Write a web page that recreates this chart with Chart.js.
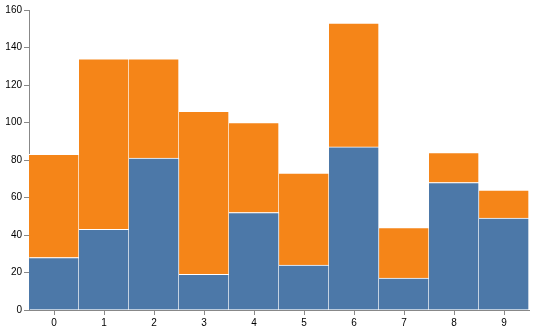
<!DOCTYPE html>
<html>
<head>
<meta charset="utf-8">
<script src="https://cdn.jsdelivr.net/npm/chart.js@4/dist/chart.umd.min.js"></script>
<style>
  html, body { margin: 0; padding: 0; background: #fff; }
  #wrap { width: 534px; height: 332px; position: relative; }
</style>
</head>
<body>
<div id="wrap"><canvas id="c"></canvas></div>
<script>
var categories = ['0', '1', '2', '3', '4', '5', '6', '7', '8', '9'];
var blueValues = [28, 43, 81, 19, 52, 24, 87, 17, 68, 49];
var orangeValues = [55, 91, 53, 87, 48, 49, 66, 27, 16, 15];

var axisColor = '#888';
var font = { family: 'Liberation Sans, Arial, sans-serif', size: 10 };

new Chart(document.getElementById('c'), {
  type: 'bar',
  data: {
    labels: categories,
    datasets: [{
      data: blueValues,
      backgroundColor: '#4c78a8',
      borderColor: '#fff',
      borderWidth: { top: 1, right: 1, left: 0, bottom: 0 },
      borderSkipped: false,
      categoryPercentage: 1,
      barPercentage: 1
    }, {
      data: orangeValues,
      backgroundColor: '#f58518',
      borderColor: '#fff',
      borderWidth: { top: 1, right: 1, left: 0, bottom: 0 },
      borderSkipped: false,
      categoryPercentage: 1,
      barPercentage: 1
    }]
  },
  options: {
    responsive: true,
    maintainAspectRatio: false,
    animation: false,
    layout: { padding: { top: 10, right: 5, left: 0, bottom: 0 } },
    plugins: { legend: { display: false }, tooltip: { enabled: false } },
    scales: {
      x: {
        stacked: true,
        afterFit: function(s) { s.height = 22; },
        grid: { display: true, drawOnChartArea: false, drawTicks: true, tickLength: 5, color: axisColor, offset: false },
        border: { display: true, color: axisColor },
        ticks: { color: '#000', font: font, padding: 2, maxRotation: 0 }
      },
      y: {
        stacked: true,
        min: 0,
        max: 160,
        afterFit: function(s) { s.width = 29; },
        grid: { display: true, drawOnChartArea: false, drawTicks: true, tickLength: 5, color: axisColor },
        border: { display: true, color: axisColor },
        ticks: { stepSize: 20, color: '#000', font: font, padding: 2 }
      }
    }
  }
});
</script>
</body>
</html>
